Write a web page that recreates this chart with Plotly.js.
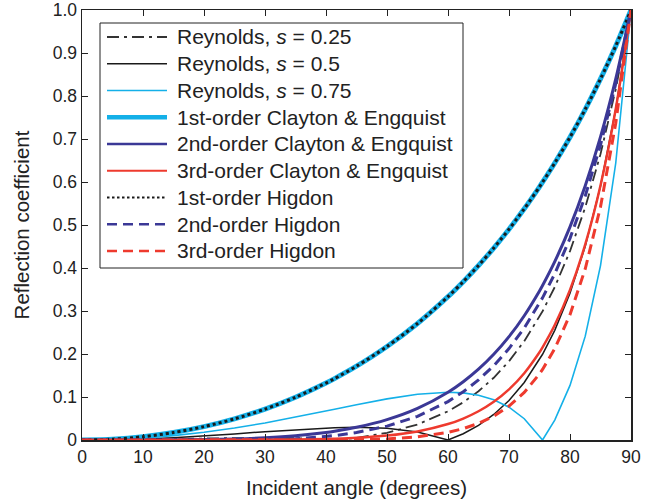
<!DOCTYPE html>
<html>
<head>
<meta charset="utf-8">
<script src="https://cdn.plot.ly/plotly-3.0.1.min.js"></script>
<style>
  html, body { margin: 0; padding: 0; background: #fff; }
  #chart { width: 656px; height: 504px; }
</style>
</head>
<body>
<div id="chart"></div>
<script>
// Incident angle samples (degrees)
const angles = [0, 5, 10, 15, 20, 25, 30, 35, 40, 41.4, 45, 50, 55, 60, 62.5, 65, 67.5, 70, 72.5, 75, 75.5, 77.5, 80, 82.5, 85, 87.5, 90];

// Reynolds boundary, three values of s
const reynolds025 = [0, 0.00027, 0.00104, 0.00218, 0.00349, 0.00464, 0.00516, 0.00438, 0.0014, 0, 0.00505, 0.01674, 0.03612, 0.06667, 0.0876, 0.11331, 0.14479, 0.18317, 0.22989, 0.28668, 0.29942, 0.35563, 0.43935, 0.54106, 0.66481, 0.81567, 1];
const reynolds05  = [0, 0.00063, 0.0025, 0.00551, 0.0095, 0.0142, 0.01924, 0.02405, 0.02784, 0.02857, 0.02944, 0.02717, 0.01857, 0, 0.01465, 0.03404, 0.05934, 0.09199, 0.13381, 0.18714, 0.19943, 0.25495, 0.3411, 0.45066, 0.59037, 0.76935, 1];
const reynolds075 = [0, 0.00114, 0.00455, 0.0102, 0.01802, 0.0279, 0.03963, 0.05292, 0.06729, 0.0714, 0.08194, 0.09567, 0.10647, 0.11111, 0.10955, 0.10416, 0.09363, 0.07621, 0.0495, 0.01021, 0, 0.04635, 0.12689, 0.24146, 0.40553, 0.64413, 1];

// Clayton & Engquist, orders 1-3
const ce1 = [0, 0.00191, 0.00765, 0.01733, 0.03109, 0.04915, 0.0718, 0.09941, 0.13248, 0.14279, 0.17157, 0.21744, 0.27099, 0.33333, 0.36823, 0.40586, 0.44647, 0.49029, 0.53762, 0.58879, 0.59952, 0.64415, 0.70409, 0.76908, 0.83965, 0.91641, 1];
const ce2 = [0, 0.0000036, 0.0000586, 0.0003, 0.00097, 0.00242, 0.00516, 0.00988, 0.01755, 0.02039, 0.02944, 0.04728, 0.07344, 0.11111, 0.13559, 0.16472, 0.19934, 0.24038, 0.28904, 0.34667, 0.35942, 0.41493, 0.49574, 0.59148, 0.70501, 0.83981, 1];
const ce3 = [0, 0, 0.0000005, 0.0000052, 0.00003, 0.00012, 0.00037, 0.00098, 0.00233, 0.00291, 0.00505, 0.01028, 0.0199, 0.03704, 0.04993, 0.06685, 0.089, 0.11786, 0.15539, 0.20412, 0.21548, 0.26728, 0.34905, 0.45489, 0.59196, 0.76962, 1];

// Higdon, orders 1-3
const higdon1 = [0, 0.00191, 0.00765, 0.01733, 0.03109, 0.04915, 0.0718, 0.09941, 0.13248, 0.14279, 0.17157, 0.21744, 0.27099, 0.33333, 0.36823, 0.40586, 0.44647, 0.49029, 0.53762, 0.58879, 0.59952, 0.64415, 0.70409, 0.76908, 0.83965, 0.91641, 1];
const higdon2 = [0, 0.00013, 0.00049, 0.00095, 0.00127, 0.00112, 0, 0.00276, 0.00811, 0.01024, 0.01733, 0.03217, 0.05505, 0.08931, 0.11211, 0.13965, 0.17282, 0.21266, 0.26048, 0.31783, 0.3306, 0.38655, 0.46888, 0.5676, 0.68609, 0.82852, 1];
const higdon3 = [0, 0.00002, 0.00008, 0.00015, 0.0002, 0.00019, 0.00011, 0.00001, 0.00006, 0.00015, 0.00065, 0.00258, 0.00736, 0.01775, 0.02646, 0.03867, 0.05559, 0.07885, 0.11062, 0.15382, 0.16415, 0.21232, 0.29138, 0.39808, 0.54211, 0.73668, 1];

const xTicks = [0, 10, 20, 30, 40, 50, 60, 70, 80, 90];
const yTicks = [0, 0.1, 0.2, 0.3, 0.4, 0.5, 0.6, 0.7, 0.8, 0.9, 1.0];
const yTickText = ['0', '0.1', '0.2', '0.3', '0.4', '0.5', '0.6', '0.7', '0.8', '0.9', '1.0'];

const CYAN = '#14b0e8';
const BLUE = '#3b3896';
const RED = '#ee3a2e';
const BLACK = '#1a1a1a';

function series(name, y, line, keyLine) {
  return { x: angles, y: y, name: name, type: 'scatter', mode: 'lines', line: line,
           hoverinfo: 'skip', showlegend: false, _key: keyLine || line };
}

const traces = [
  series('Reynolds, <i>s</i> = 0.25', reynolds025, { color: '#333', width: 1.8, dash: '12px,5px,3px,5px' }),
  series('Reynolds, <i>s</i> = 0.5', reynolds05, { color: BLACK, width: 1.5 }),
  series('Reynolds, <i>s</i> = 0.75', reynolds075, { color: CYAN, width: 1.6 }),
  series('1st-order Clayton & Engquist', ce1, { color: CYAN, width: 5, shape: 'spline', smoothing: 0.8 }, { color: CYAN, width: 4.5 }),
  series('2nd-order Clayton & Engquist', ce2, { color: BLUE, width: 3, shape: 'spline', smoothing: 0.8 }, { color: BLUE, width: 2.5 }),
  series('3rd-order Clayton & Engquist', ce3, { color: RED, width: 2.5, shape: 'spline', smoothing: 0.8 }, { color: RED, width: 2.2 }),
  series('1st-order Higdon', higdon1, { color: BLACK, width: 3, dash: 'dot', shape: 'spline', smoothing: 0.8 }, { color: BLACK, width: 2, dash: '2.5px,2.5px' }),
  series('2nd-order Higdon', higdon2, { color: BLUE, width: 3, dash: '10px,6px' }, { color: BLUE, width: 2.5, dash: '10px,6px' }),
  series('3rd-order Higdon', higdon3, { color: RED, width: 3, dash: '10px,6px' }, { color: RED, width: 2.5, dash: '10px,6px' })
];

const FONT = 'Liberation Sans, Arial, Helvetica, sans-serif';
const W = 656, H = 504;
const M = { l: 82, r: 25, t: 10, b: 64 };

// pixel -> paper coordinate helpers for the key box
const px = v => (v - M.l) / (W - M.l - M.r);
const py = v => (H - M.b - v) / (H - M.t - M.b);

// Key: framed box with a line sample and a label per series
const keyBox = { left: 100, right: 463, top: 23, bottom: 268 };
const keyRow0 = 37, keyRowStep = 26.75, keySampleX = [107, 167], keyTextX = 175;

const shapes = [{
  type: 'rect', xref: 'paper', yref: 'paper',
  x0: px(keyBox.left), x1: px(keyBox.right), y0: py(keyBox.bottom), y1: py(keyBox.top),
  line: { color: '#222', width: 1 }, fillcolor: '#fff', layer: 'above'
}];
const annotations = [];
traces.forEach((t, i) => {
  const yy = py(keyRow0 + i * keyRowStep);
  const k = t._key;
  shapes.push({
    type: 'line', xref: 'paper', yref: 'paper', layer: 'above',
    x0: px(keySampleX[0]), x1: px(keySampleX[1]), y0: yy, y1: yy,
    line: { color: k.color, width: k.width, dash: k.dash || 'solid' }
  });
  annotations.push({
    xref: 'paper', yref: 'paper', x: px(keyTextX), y: yy,
    xanchor: 'left', yanchor: 'middle', showarrow: false,
    text: t.name, font: { family: FONT, size: 21, color: '#222' }
  });
});
traces.forEach(t => delete t._key);

const layout = {
  width: W,
  height: H,
  margin: M,
  paper_bgcolor: '#fff',
  plot_bgcolor: '#fff',
  font: { family: FONT, size: 17, color: '#222' },
  showlegend: false,
  shapes: shapes,
  annotations: annotations,
  xaxis: {
    range: [0, 90],
    tickvals: xTicks,
    ticktext: xTicks.map(String),
    ticks: 'inside', ticklen: 6, tickwidth: 1, tickcolor: '#222',
    showline: true, linecolor: '#222', linewidth: 1.5, mirror: 'ticks',
    showgrid: false, zeroline: false,
    tickfont: { size: 17.5 },
    title: { text: 'Incident angle (degrees)', font: { size: 20.5 }, standoff: 15 }
  },
  yaxis: {
    range: [0, 1],
    tickvals: yTicks,
    ticktext: yTickText,
    ticks: 'inside', ticklen: 6, tickwidth: 1, tickcolor: '#222',
    showline: true, linecolor: '#222', linewidth: 1.5, mirror: 'ticks',
    showgrid: false, zeroline: false,
    tickfont: { size: 17.5 },
    title: { text: 'Reflection coefficient', font: { size: 20.5 }, standoff: 17 }
  }
};

Plotly.newPlot('chart', traces, layout, { staticPlot: true, displayModeBar: false });
</script>
</body>
</html>
